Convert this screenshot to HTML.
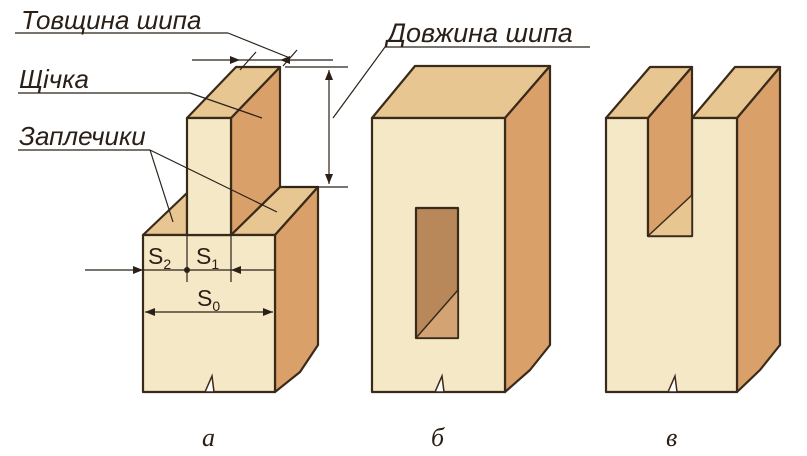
<!DOCTYPE html>
<html><head><meta charset="utf-8"><style>
html,body{margin:0;padding:0;background:#fff;width:807px;height:456px;overflow:hidden}
svg{display:block}
.lb{font-family:"Liberation Sans",sans-serif;font-style:italic;fill:#2a2018}
.s{font-family:"Liberation Sans",sans-serif;font-style:normal;fill:#2a2018}
.l{font-family:"Liberation Serif",serif;font-style:italic;fill:#2a2018}
</style></head><body>
<svg width="807" height="456" viewBox="0 0 807 456" xmlns="http://www.w3.org/2000/svg">
<g stroke="#3a2a1a" stroke-width="2.2" stroke-linejoin="round">
<polygon points="143,235 187,193 187,235" fill="#e8c692"/>
<polygon points="275,235 231,235 280,187 318,187" fill="#e8c692"/>
<polygon points="275,235 318,187 318,345 300,372 275,392" fill="#d9a06a"/>
<polygon points="143,235 275,235 275,392 143,392" fill="#f4e8c6"/>
<polygon points="231,118 280,67 280,187 231,235" fill="#d9a06a"/>
<polygon points="187,118 231,118 280,67 236,67" fill="#e8c692"/>
<rect x="187" y="118" width="44" height="117" fill="#f4e8c6"/>
<polygon points="372,118 505,118 550,66 415,66" fill="#e8c692"/>
<polygon points="505,118 550,66 550,345 530,370 505,392" fill="#d9a06a"/>
<rect x="372" y="118" width="133" height="274" fill="#f4e8c6"/>
<rect x="416" y="208" width="42" height="130" fill="#b8875a"/>
<polygon points="416,338 458,290 458,338" fill="#d4a373" stroke-width="1.5"/>
<polygon points="737,118 780,67 780,345 760,370 737,392" fill="#d9a06a"/>
<polygon points="606,118 648,118 692,67 650,67" fill="#e8c692"/>
<polygon points="692,118 737,118 780,67 735,67" fill="#e8c692"/>
<polygon points="606,118 648,118 648,236 692,236 692,118 737,118 737,392 606,392" fill="#f4e8c6"/>
<polygon points="648,118 692,67 692,236 648,236" fill="#d9a06a"/>
<polygon points="648,236 692,195 692,236" fill="#e8c692" stroke-width="1.5"/>
</g>
<g fill="#fff" stroke="#3a2a1a" stroke-width="1.5">
<polygon points="205,392 212,376 214,392"/>
<polygon points="435,392 442,376 444,392"/>
<polygon points="668,392 675,376 677,392"/>
</g>
<g stroke="#2a2018" stroke-width="1.2" fill="none">
<line x1="15" y1="33" x2="228" y2="33"/><line x1="228" y1="33" x2="290" y2="58"/>
<line x1="192" y1="60" x2="333" y2="60"/>
<line x1="240" y1="70" x2="256" y2="52"/><line x1="283" y1="66" x2="297" y2="50"/>
<line x1="285" y1="67" x2="348" y2="67"/><line x1="285" y1="187" x2="348" y2="187"/>
<line x1="329" y1="70" x2="329" y2="184"/>
<line x1="385" y1="47" x2="590" y2="47"/><line x1="385" y1="47" x2="333" y2="118"/>
<line x1="18" y1="93" x2="190" y2="93"/><line x1="190" y1="93" x2="262" y2="118"/>
<line x1="18" y1="150" x2="150" y2="150"/><line x1="150" y1="150" x2="173" y2="222"/><line x1="150" y1="150" x2="277" y2="212"/>
<line x1="85" y1="270" x2="143" y2="270"/><line x1="143" y1="270" x2="275" y2="270"/>
<line x1="187" y1="235" x2="187" y2="282"/><line x1="231" y1="235" x2="231" y2="282"/>
<line x1="145" y1="312" x2="273" y2="312"/>
</g>
<g fill="#2a2018">
<polygon points="240,60 230,56 230,64"/><polygon points="280,60 290,56 290,64"/>
<polygon points="329,70 325,80 333,80"/><polygon points="329,184 325,174 333,174"/>
<polygon points="143,270 133,266 133,274"/><polygon points="231,270 241,266 241,274"/>
<polygon points="145,312 155,308 155,316"/><polygon points="273,312 263,308 263,316"/>
<circle cx="187" cy="270" r="3"/>
</g>
<text class="lb" x="21" y="29" font-size="26">Товщина шипа</text>
<text class="lb" x="19" y="88" font-size="26">Щічка</text>
<text class="lb" x="19" y="145" font-size="26">Заплечики</text>
<text class="lb" x="387" y="42" font-size="27">Довжина шипа</text>
<text class="s" x="148" y="264" font-size="23">S<tspan font-size="14" dy="5">2</tspan></text>
<text class="s" x="196" y="264" font-size="23">S<tspan font-size="14" dy="5">1</tspan></text>
<text class="s" x="197" y="306" font-size="23">S<tspan font-size="14" dy="5">0</tspan></text>
<text class="l" x="202" y="446" font-size="26">а</text>
<text class="l" x="431" y="446" font-size="26">б</text>
<text class="l" x="666" y="446" font-size="26">в</text>
</svg>
</body></html>
